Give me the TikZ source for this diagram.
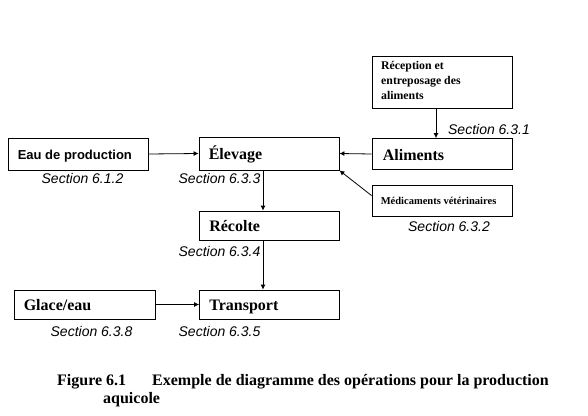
\documentclass[tikz,border=0pt]{standalone}
\usepackage{fontspec}
\setmainfont{Liberation Serif}
\newfontfamily\sansf{Liberation Sans}
\usetikzlibrary{arrows.meta}
\begin{document}
\begin{tikzpicture}[x=1pt,y=-1pt,
  box/.style={draw,line width=0.8pt,minimum width=140pt,minimum height=30pt,inner sep=0pt},
  lbl/.style={anchor=base west,inner sep=0pt,font=\fontsize{16}{18}\selectfont\bfseries},
  smalllbl/.style={anchor=base west,inner sep=0pt,align=left,font=\fontsize{11.8}{15}\selectfont\bfseries},
  sec/.style={font=\sansf\fontsize{14}{16}\selectfont\itshape,inner sep=0pt},
  arr/.style={line width=0.8pt,-{Latex[length=5pt,width=5pt]}},
  captext/.style={font=\fontsize{16}{18}\selectfont\bfseries,inner sep=0pt,anchor=base west}]
\useasboundingbox (0,0) rectangle (588,415);
\node[box,minimum height=32pt] (eau) at (78,154) {};
\node[lbl,font=\sansf\fontsize{13}{15}\selectfont\bfseries] (eaut) at ([xshift=10pt,yshift=-5pt]eau.west) {Eau de production};
\node[box,minimum height=33pt] (elev) at (269,153.5) {};
\node[lbl] (elevt) at ([xshift=10pt,yshift=-6pt]elev.west) {Élevage};
\node[box,minimum height=31pt] (ali) at (442,154) {};
\node[lbl] (alit) at ([xshift=11pt,yshift=-6pt]ali.west) {Aliments};
\node[box,minimum height=52pt] (rec) at (442,82) {};
\node[smalllbl] (rect) at (381,99) {Réception et\\entreposage des\\aliments};
\node[box,minimum height=31pt] (med) at (442,200.5) {};
\node[smalllbl,font=\fontsize{10.5}{12}\selectfont\bfseries] (medt) at ([xshift=9pt,yshift=-4pt]med.west) {Médicaments vétérinaires};
\node[box,minimum height=29pt] (rco) at (269.5,225.5) {};
\node[lbl] (rcot) at ([xshift=10pt,yshift=-6pt]rco.west) {Récolte};
\node[box,minimum height=29pt,minimum width=141pt] (gla) at (84.5,304.5) {};
\node[lbl] (glat) at ([xshift=10pt,yshift=-6pt]gla.west) {Glace/eau};
\node[box,minimum height=29pt] (tra) at (269.5,304.5) {};
\node[lbl] (trat) at ([xshift=10pt,yshift=-6pt]tra.west) {Transport};
\node[sec] (s612) at (82.5,178) {Section 6.1.2};
\node[sec] (s633) at (219.5,178) {Section 6.3.3};
\node[sec] (s631) at (489,129) {Section 6.3.1};
\node[sec] (s632) at (449,226) {Section 6.3.2};
\node[sec] (s634) at (219.5,251) {Section 6.3.4};
\node[sec] (s638) at (91.5,331) {Section 6.3.8};
\node[sec] (s635) at (219.5,331) {Section 6.3.5};
\draw[arr] (eau.east) -- (elev.west);
\draw[arr] (ali.west) -- (elev.east);
\draw[arr] ([xshift=-6pt]rec.south) -- ([xshift=-6pt]ali.north);
\draw[arr] ([yshift=-11pt]med.north west) -- (elev.south east);
\draw[arr] ([xshift=-6pt]elev.south) -- ([xshift=-6.5pt]rco.north);
\draw[arr] ([xshift=-6.5pt]rco.south) -- ([xshift=-6.5pt]tra.north);
\draw[arr] (gla.east) -- (tra.west);
\node[captext] (fig) at (57,385) {Figure 6.1};
\node[captext] (ttl) at (152,385) {Exemple de diagramme des opérations pour la production};
\node[captext] (ttl2) at (103,403) {aquicole};
\end{tikzpicture}
\end{document}
